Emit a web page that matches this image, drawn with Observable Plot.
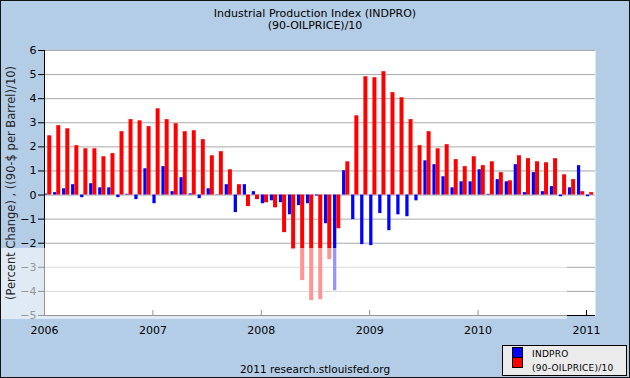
<!DOCTYPE html>
<html>
<head>
<meta charset="utf-8">
<script src="https://cdn.jsdelivr.net/npm/d3@7"></script>
<script src="https://cdn.jsdelivr.net/npm/@observablehq/plot@0.6"></script>
<style>
  html, body { margin: 0; padding: 0; background: #b4cde6; }
  #wrap { position: relative; width: 630px; height: 378px; background: #b4cde6; overflow: hidden; font-family: "DejaVu Sans", Verdana, sans-serif; }
  #wrap svg { position: absolute; left: 0; top: 0; }
  .t { position: absolute; white-space: nowrap; color: #000; }
  #title { left: 0; width: 630px; top: 8px; text-align: center; font-size: 11px; line-height: 12px; }
  #ytitle { left: 11px; top: 183px; font-size: 11.5px; color: #222; transform: translate(-50%, -50%) rotate(-90deg); }
  #caption { left: 0; width: 630px; top: 363px; text-align: center; font-size: 10.5px; }
  #overlay { position: absolute; left: 0; top: 248px; width: 567px; height: 71px; background: rgba(255,255,255,0.58); }
  #legend { position: absolute; left: 502px; top: 345px; width: 123px; height: 29px; background: #ebebeb; border: 1px solid #000; }
  .sw { position: absolute; left: 9px; width: 9px; height: 9px; border: 1px solid #000; }
  .lt { position: absolute; left: 29px; font-size: 9px; letter-spacing: 0.25px; line-height: 11px; }
  #border { position: absolute; left: 0; top: 0; width: 630px; height: 378px; box-sizing: border-box; border: 1px solid #111; pointer-events: none; }
</style>
</head>
<body>
<div id="wrap">
  <div id="chart"></div>
  <div id="overlay"></div>
  <div class="t" id="title"></div>
  <div class="t" id="ytitle"></div>
  <div class="t" id="caption"></div>
  <div id="legend"></div>
  <div id="border"></div>
</div>
<script>
// ---- data (monthly, Jan 2006 .. Jan 2011) ----
const startYear = 2006;
const years = [2006, 2007, 2008, 2009, 2010, 2011];
const yTicks = [-5, -4, -3, -2, -1, 0, 1, 2, 3, 4, 5, 6];
const seriesNames = ["INDPRO", "(90-OILPRICE)/10"];
const seriesColors = ["#0000ff", "#ff0000"];
const titleLines = ["Industrial Production Index (INDPRO)", "(90-OILPRICE)/10"];
const yLabel = "(Percent Change) , ((90-$ per Barrel)/10)";
const captionText = "2011 research.stlouisfed.org";

const indpro = [0.04, 0.10, 0.26, 0.43, -0.11, 0.47, 0.30, 0.30, -0.11, 0.03,
  -0.19, 1.09, -0.36, 1.18, 0.14, 0.72, 0.05, -0.15, 0.26, 0.01,
  0.43, -0.73, 0.43, 0.14, -0.36, -0.24, -0.32, -0.82, -0.44, -0.36,
  -0.04, -1.19, -3.97, 1.01, -1.02, -2.06, -2.10, -0.77, -1.48, -0.82,
  -0.90, -0.24, 1.42, 1.26, 0.76, 0.30, 0.55, 0.55, 1.05, 0.03,
  0.64, 0.55, 1.26, 0.10, 0.93, 0.14, 0.35, -0.07, 0.30, 1.22, -0.07];

const oil = [2.46, 2.88, 2.75, 2.05, 1.92, 1.92, 1.59, 1.72, 2.63, 3.13,
  3.08, 2.84, 3.58, 3.13, 2.96, 2.63, 2.67, 2.30, 1.63, 1.80,
  1.05, 0.43, -0.48, -0.19, -0.32, -0.53, -1.56, -2.27, -3.55, -4.38,
  -4.34, -2.68, -1.40, 1.38, 3.29, 4.91, 4.87, 5.12, 4.25, 4.04,
  3.13, 2.05, 2.63, 1.92, 2.09, 1.47, 1.18, 1.59, 1.22, 1.38,
  0.93, 0.59, 1.63, 1.51, 1.38, 1.34, 1.51, 0.84, 0.64, 0.14, 0.10];

// ---- table for the bar marks ----
const nMonths = indpro.length;
const rows = [];
indpro.forEach((v, i) => {
  const t = startYear + i / 12;
  rows.push({series: seriesNames[0], x1: t, x2: t + 0.36 / 12, v});
  rows.push({series: seriesNames[1], x1: t + 0.36 / 12, x2: t + 0.80 / 12, v: oil[i]});
});

const chart = Plot.plot({
  width: 630,
  height: 378,
  marginTop: 50,
  marginBottom: 63,
  marginLeft: 44,
  marginRight: 35,
  style: {background: "transparent", fontFamily: "DejaVu Sans, Verdana, sans-serif", color: "#000", overflow: "visible"},
  x: {type: "linear", domain: [startYear, startYear + nMonths / 12], label: null},
  y: {domain: [-5, 6], label: null},
  color: {domain: seriesNames, range: seriesColors},
  marks: [
    Plot.frame({fill: "white", stroke: "none"}),
    Plot.gridY(yTicks, {stroke: "#a8a8a8", strokeOpacity: 1}),
    Plot.rectY(rows, {x1: "x1", x2: "x2", y1: 0, y2: "v", fill: "series"}),
    Plot.ruleX([startYear], {stroke: "#000"}),
    Plot.ruleY([-5], {stroke: "#000"}),
    Plot.axisY(yTicks, {tickSize: 6, tickPadding: 2, fontSize: 11, label: null}),
    Plot.axisX(years, {tickSize: -5, tickPadding: 16, tickFormat: "d", fontSize: 11, label: null})
  ]
});
document.getElementById("chart").appendChild(chart);

// ---- texts and legend ----
document.getElementById("title").innerHTML = titleLines.join("<br>");
document.getElementById("ytitle").textContent = yLabel;
document.getElementById("caption").textContent = captionText;
const legend = document.getElementById("legend");
seriesNames.forEach((name, i) => {
  const sw = document.createElement("div");
  sw.className = "sw";
  sw.style.top = (1 + i * 10) + "px";
  sw.style.background = seriesColors[i];
  legend.appendChild(sw);
  const lt = document.createElement("div");
  lt.className = "t lt";
  lt.style.top = (3 + i * 14) + "px";
  lt.textContent = name;
  legend.appendChild(lt);
});
</script>
</body>
</html>
